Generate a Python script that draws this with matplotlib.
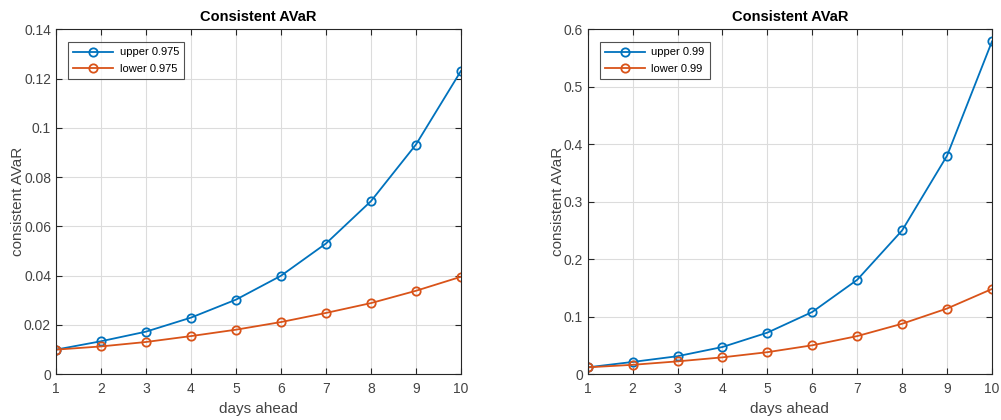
import matplotlib
matplotlib.use('Agg')
import matplotlib.pyplot as plt

plt.rcParams['font.family'] = ['Liberation Sans', 'DejaVu Sans']

# data
days = [1, 2, 3, 4, 5, 6, 7, 8, 9, 10]

upper_975 = [0.0099, 0.0133, 0.0172, 0.0229, 0.0302, 0.0399, 0.0530, 0.0702, 0.0932, 0.1231]
lower_975 = [0.0099, 0.0112, 0.0130, 0.0154, 0.0180, 0.0211, 0.0248, 0.0288, 0.0338, 0.0395]

upper_99 = [0.0116, 0.021, 0.031, 0.047, 0.072, 0.108, 0.164, 0.250, 0.380, 0.579]
lower_99 = [0.0116, 0.016, 0.022, 0.029, 0.038, 0.050, 0.066, 0.0875, 0.114, 0.148]

panels = [
    (upper_975, lower_975, 'upper 0.975', 'lower 0.975', 0.14, [0, 0.02, 0.04, 0.06, 0.08, 0.1, 0.12, 0.14]),
    (upper_99, lower_99, 'upper 0.99', 'lower 0.99', 0.6, [0, 0.1, 0.2, 0.3, 0.4, 0.5, 0.6]),
]

blue = '#0072BD'
orange = '#D95319'
dark = '#262626'

fig = plt.figure(figsize=(10.01, 4.2), dpi=100)
positions = [[0.0559, 0.1095, 0.4046, 0.8207], [0.5871, 0.1095, 0.4039, 0.8207]]

for pos, (up, lo, lab_up, lab_lo, ymax, yticks) in zip(positions, panels):
    ax = fig.add_axes(pos)
    ax.plot(days, up, color=blue, marker='o', markersize=6, markerfacecolor='none',
            markeredgewidth=1.3, linewidth=1.3, label=lab_up)
    ax.plot(days, lo, color=orange, marker='o', markersize=6, markerfacecolor='none',
            markeredgewidth=1.3, linewidth=1.3, label=lab_lo)
    ax.set_xlim(1, 10)
    ax.set_ylim(0, ymax)
    ax.set_xticks(days)
    ax.set_yticks(yticks)
    ax.set_yticklabels([('%g' % t) for t in yticks])
    ax.grid(True, color='#dcdcdc', linewidth=0.8)
    ax.set_axisbelow(True)
    ax.tick_params(direction='in', top=True, right=True, colors=dark, labelsize=10,
                   length=4, labelcolor='#444444')
    ax.tick_params(axis='x', pad=6)
    for s in ax.spines.values():
        s.set_color(dark)
        s.set_linewidth(0.8)
    ax.set_title('Consistent AVaR', fontsize=10.5, fontweight='bold', color='black', pad=6)
    ax.set_xlabel('days ahead', fontsize=11, color='#444444', labelpad=4)
    ax.set_ylabel('consistent AVaR', fontsize=11, color='#444444', labelpad=-1)
    leg = ax.legend(loc='upper left', fontsize=8, frameon=True, fancybox=False,
                    edgecolor=dark, borderpad=0.45, handlelength=3.6, handletextpad=0.6,
                    bbox_to_anchor=(0.03, 0.962), borderaxespad=0, labelspacing=0.55)
    leg.get_frame().set_linewidth(0.8)

plt.savefig('out.png', dpi=100)
